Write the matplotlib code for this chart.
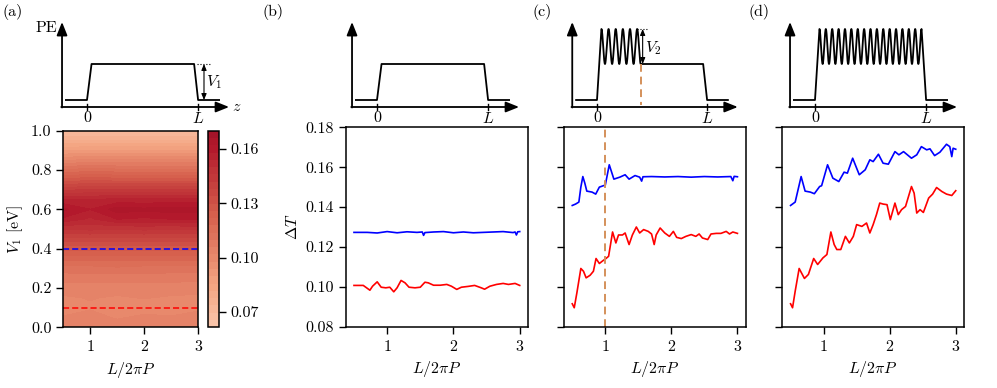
import numpy as np
import matplotlib
matplotlib.use("Agg")
import matplotlib.pyplot as plt
from matplotlib.colors import ListedColormap

plt.rcParams['font.family'] = 'serif'
plt.rcParams['font.serif'] = ['cmr10']
plt.rcParams['mathtext.fontset'] = 'cm'
plt.rcParams['axes.formatter.use_mathtext'] = True
plt.rcParams['font.size'] = 11.5
plt.rcParams['axes.linewidth'] = 1.1
plt.rcParams['xtick.major.size'] = 5
plt.rcParams['ytick.major.size'] = 5
plt.rcParams['xtick.major.width'] = 1.0
plt.rcParams['ytick.major.width'] = 1.0

W, H = 997, 388

# ---- data -------------------------------------------------------------
# (a) map of Delta T over (L/2piP, V1)
map_L = [0.5, 1.0, 1.5, 2.0, 2.5, 3.0]
map_V1 = [0.00, 0.05, 0.10, 0.15, 0.20, 0.25, 0.30, 0.35, 0.40, 0.45, 0.50,
          0.55, 0.60, 0.65, 0.70, 0.75, 0.80, 0.85, 0.90, 0.95, 1.00]
map_dT = [
    [0.106, 0.104, 0.105, 0.103, 0.105, 0.104],
    [0.102, 0.104, 0.101, 0.103, 0.102, 0.103],
    [0.100, 0.101, 0.100, 0.099, 0.100, 0.101],
    [0.101, 0.102, 0.101, 0.102, 0.101, 0.101],
    [0.104, 0.103, 0.104, 0.103, 0.104, 0.103],
    [0.107, 0.108, 0.107, 0.108, 0.107, 0.107],
    [0.112, 0.112, 0.113, 0.112, 0.112, 0.112],
    [0.119, 0.119, 0.119, 0.119, 0.119, 0.119],
    [0.127, 0.127, 0.127, 0.127, 0.127, 0.127],
    [0.136, 0.137, 0.136, 0.137, 0.136, 0.137],
    [0.146, 0.147, 0.146, 0.147, 0.146, 0.147],
    [0.157, 0.153, 0.158, 0.157, 0.158, 0.158],
    [0.163, 0.158, 0.164, 0.163, 0.164, 0.164],
    [0.154, 0.154, 0.155, 0.155, 0.155, 0.155],
    [0.141, 0.142, 0.142, 0.142, 0.142, 0.142],
    [0.127, 0.129, 0.128, 0.128, 0.128, 0.128],
    [0.114, 0.116, 0.115, 0.115, 0.115, 0.115],
    [0.101, 0.103, 0.102, 0.102, 0.102, 0.102],
    [0.089, 0.090, 0.090, 0.090, 0.090, 0.090],
    [0.078, 0.078, 0.078, 0.078, 0.078, 0.078],
    [0.068, 0.068, 0.068, 0.068, 0.068, 0.068],
]
cbar_ticks = [0.07, 0.10, 0.13, 0.16]
V1_blue, V1_red = 0.4, 0.1

# (b) flat barrier
b_blue_x = [0.5, 0.7, 0.85, 1.0, 1.15, 1.3, 1.45, 1.53, 1.55, 1.57, 1.7, 1.85, 2.0,
            2.15, 2.3, 2.45, 2.6, 2.75, 2.9, 2.93, 2.95, 2.97, 3.0]
b_blue_y = [0.1273, 0.1273, 0.1270, 0.1277, 0.1271, 0.1276, 0.1273, 0.1275, 0.1258, 0.1272,
            0.1275, 0.1277, 0.1271, 0.1275, 0.1271, 0.1273, 0.1275, 0.1277, 0.1272, 0.1275,
            0.1260, 0.1276, 0.1277]
b_red_x = [0.5, 0.64, 0.69, 0.74, 0.78, 0.85, 0.91, 0.98, 1.04, 1.1, 1.15, 1.21, 1.27,
           1.33, 1.42, 1.5, 1.57, 1.62, 1.7, 1.8, 1.9, 1.97, 2.05, 2.12, 2.22, 2.32,
           2.42, 2.47, 2.55, 2.65, 2.75, 2.83, 2.93, 3.0]
b_red_y = [0.1007, 0.1007, 0.0995, 0.0983, 0.1003, 0.1025, 0.0998, 0.0995, 0.0998, 0.0975,
           0.0995, 0.1032, 0.1020, 0.0998, 0.0995, 0.0998, 0.1023, 0.1020, 0.1008, 0.1008,
           0.1012, 0.1003, 0.0987, 0.0998, 0.1002, 0.1007, 0.0995, 0.0988, 0.1003, 0.1012,
           0.1017, 0.1012, 0.1017, 0.1007]

# (c) partially modulated barrier
c_blue_x = [0.5, 0.55, 0.6, 0.63, 0.66, 0.69, 0.72, 0.8, 0.855, 0.91, 0.97, 1.0, 1.06,
            1.13, 1.22, 1.3, 1.36, 1.45, 1.52, 1.55, 1.57, 1.7, 1.9, 2.1, 2.3, 2.5,
            2.7, 2.9, 2.93, 2.95, 3.0]
c_blue_y = [0.1408, 0.1415, 0.1425, 0.1500, 0.1553, 0.1520, 0.1480, 0.1475, 0.1465, 0.1500,
            0.1507, 0.1510, 0.1612, 0.1540, 0.1550, 0.1562, 0.1540, 0.1558, 0.1550, 0.1530,
            0.1552, 0.1553, 0.1551, 0.1553, 0.1550, 0.1553, 0.1551, 0.1553, 0.1532, 0.1554,
            0.1552]
c_red_x = [0.5, 0.53, 0.57, 0.63, 0.67, 0.71, 0.77, 0.82, 0.86, 0.91, 0.96, 1.01, 1.05,
           1.11, 1.16, 1.2, 1.26, 1.3, 1.36, 1.41, 1.47, 1.52, 1.58, 1.65, 1.7, 1.74,
           1.77, 1.83, 1.9, 1.97, 2.03, 2.08, 2.15, 2.22, 2.3, 2.37, 2.42, 2.47, 2.55,
           2.6, 2.68, 2.75, 2.83, 2.88, 2.93, 3.0]
c_red_y = [0.0915, 0.0895, 0.0970, 0.1092, 0.1078, 0.1045, 0.1058, 0.1078, 0.1142, 0.1117,
           0.1130, 0.1142, 0.1153, 0.1275, 0.1220, 0.1260, 0.1260, 0.1270, 0.1212, 0.1260,
           0.1300, 0.1270, 0.1287, 0.1278, 0.1265, 0.1212, 0.1260, 0.1295, 0.1270, 0.1253,
           0.1278, 0.1248, 0.1242, 0.1253, 0.1262, 0.1253, 0.1265, 0.1245, 0.1237, 0.1265,
           0.1268, 0.1268, 0.1278, 0.1265, 0.1275, 0.1268]
c_boundary = 1.0

# (d) fully modulated barrier
d_blue_x = [0.5, 0.57, 0.66, 0.72, 0.8, 0.86, 0.94, 0.97, 1.06, 1.14, 1.23, 1.31, 1.36,
            1.44, 1.5, 1.54, 1.63, 1.7, 1.75, 1.83, 1.9, 1.98, 2.08, 2.14, 2.21, 2.33,
            2.41, 2.48, 2.56, 2.61, 2.68, 2.76, 2.86, 2.91, 2.94, 2.96, 3.0]
d_blue_y = [0.1408, 0.1425, 0.1553, 0.1480, 0.1475, 0.1467, 0.1503, 0.1507, 0.1612, 0.1545,
            0.1528, 0.1575, 0.1570, 0.1645, 0.1595, 0.1562, 0.1587, 0.1637, 0.1628, 0.1665,
            0.1620, 0.1615, 0.1678, 0.1662, 0.1678, 0.1645, 0.1662, 0.1703, 0.1687, 0.1692,
            0.1658, 0.1675, 0.1715, 0.1703, 0.1653, 0.1695, 0.1690]
d_red_x = [0.5, 0.53, 0.57, 0.63, 0.71, 0.77, 0.85, 0.91, 0.99, 1.05, 1.11, 1.16, 1.2,
           1.26, 1.33, 1.39, 1.45, 1.5, 1.58, 1.65, 1.7, 1.75, 1.8, 1.85, 1.9, 1.96,
           2.01, 2.08, 2.13, 2.18, 2.24, 2.33, 2.37, 2.41, 2.46, 2.51, 2.59, 2.65, 2.71,
           2.79, 2.86, 2.94, 3.0]
d_red_y = [0.0915, 0.0895, 0.0978, 0.1092, 0.1042, 0.1062, 0.1142, 0.1112, 0.1145, 0.1162,
           0.1275, 0.1212, 0.1187, 0.1187, 0.1253, 0.1220, 0.1253, 0.1312, 0.1303, 0.1320,
           0.1270, 0.1312, 0.1362, 0.1420, 0.1415, 0.1412, 0.1337, 0.1420, 0.1362, 0.1387,
           0.1403, 0.1503, 0.1470, 0.1370, 0.1387, 0.1373, 0.1445, 0.1465, 0.1498, 0.1478,
           0.1465, 0.1458, 0.1482]

# ---- figure -----------------------------------------------------------
fig = plt.figure(figsize=(W / 100, H / 100), dpi=100)


def px_axes(x0, y0, x1, y1):
    # axes from pixel box (top-left origin)
    return fig.add_axes([x0 / W, 1 - y1 / H, (x1 - x0) / W, (y1 - y0) / H])


def schematic(z0px, s, n_peaks=0, period=0.06, partial=False):
    ax = px_axes(z0px - 0.3 * s, 18, z0px + 1.45 * s, 118)
    ax.set_xlim(-0.3, 1.45)
    ax.set_ylim(-11, 89)
    ax.axis('off')
    zz = np.linspace(-0.19, 1.19, 4000)
    pe = np.interp(zz, [-0.19, 0, 0.04, 0.965, 1.0, 1.19], [7, 7, 43, 43, 7, 7])
    z_end = None
    if n_peaks:
        z_end = 0.04 + (n_peaks - 1) * period + (period / 2 if partial else 0)
        m = (zz >= 0.04) & (zz <= z_end)
        pe[m] = 43 + 35 * (1 + np.cos(2 * np.pi * (zz[m] - 0.04) / period)) / 2
        m0 = (zz >= 0) & (zz < 0.04)
        pe[m0] = 7 + 71 * zz[m0] / 0.04
        if not partial:
            m2 = (zz > z_end) & (zz <= 1.0)
            pe[m2] = 78 - 71 * (zz[m2] - z_end) / (1.0 - z_end)
    ax.plot(zz, pe, color='k', lw=1.3)
    arr = dict(arrowstyle='-|>,head_length=0.8,head_width=0.32', color='k', lw=1.3,
               mutation_scale=10, shrinkA=0, shrinkB=0)
    ax.annotate('', xy=(-0.225, 85), xytext=(-0.225, -0.5), arrowprops=arr)
    ax.annotate('', xy=(1.28, 0), xytext=(-0.232, 0), arrowprops=arr)
    for zt, lab in [(0, '0'), (1, '$L$')]:
        ax.plot([zt, zt], [-3, 3], color='k', lw=1.0)
        ax.text(zt, -4, lab, ha='center', va='top', fontsize=11.5)
    return ax, z_end


small = dict(arrowstyle='<|-|>,head_length=0.6,head_width=0.25', color='k', lw=0.8,
             mutation_scale=6, shrinkA=0, shrinkB=0)

# schematic (a)
sa, _ = schematic(87, 111)
sa.annotate('', xy=(1.054, 43), xytext=(1.054, 7), arrowprops=small)
sa.plot([0.99, 1.11], [43, 43], color='k', lw=0.8, ls=':')
sa.text(1.07, 25, '$V_1$', ha='left', va='center', fontsize=11.5)
sa.text(-0.27, 79, 'PE', ha='right', va='center', fontsize=11.5)
sa.text(1.31, 0, '$z$', ha='left', va='center', fontsize=11.5)

# schematic (b)
schematic(377, 111)

# schematic (c)
sc, zc = schematic(597, 110, n_peaks=6, period=0.065, partial=True)
sc.annotate('', xy=(0.415, 43), xytext=(0.415, 78), arrowprops=small)
sc.plot([0.36, 0.455], [78, 78], color='k', lw=0.8, ls=':')
sc.text(0.44, 59, '$V_2$', ha='left', va='center', fontsize=11.5)
sc.plot([zc, zc], [43, 2], color='#d4915a', lw=1.4, ls=(0, (4, 2.5)))

# schematic (d)
schematic(815, 111, n_peaks=17, period=0.0575)

# ---- (a) map ----
axa = px_axes(63.3, 130.7, 198.3, 327.3)
cmap = ListedColormap(plt.cm.RdBu_r(np.linspace(0.64, 0.92, 256)))
levels = np.linspace(0.0615, 0.170, 28)
cf = axa.contourf(map_L, map_V1, np.array(map_dT), levels=levels, cmap=cmap)
axa.axhline(V1_blue, color='b', lw=1.1, ls='--', dashes=(4, 2))
axa.axhline(V1_red, color='r', lw=1.1, ls='--', dashes=(4, 2))
axa.set_xlim(0.5, 3.0)
axa.set_ylim(0, 1.0)
axa.set_xticks([1, 2, 3])
axa.set_yticks([0.0, 0.2, 0.4, 0.6, 0.8, 1.0])
axa.yaxis.set_major_formatter(matplotlib.ticker.FormatStrFormatter('%.1f'))
axa.set_xlabel(r'$L/2\pi P$')
axa.set_ylabel(r'$V_1$ [eV]')
cax = px_axes(208.3, 130.7, 219, 327.3)
cb = fig.colorbar(cf, cax=cax, ticks=cbar_ticks, format='%.2f')
cb.outline.set_linewidth(1.1)

# ---- (b), (c), (d) ----
boxes = [(345.7, 528), (564, 745.7), (782.3, 964)]
series = [(b_blue_x, b_blue_y, b_red_x, b_red_y),
          (c_blue_x, c_blue_y, c_red_x, c_red_y),
          (d_blue_x, d_blue_y, d_red_x, d_red_y)]
for i, ((x0, x1), (bx, by, rx, ry)) in enumerate(zip(boxes, series)):
    ax = px_axes(x0, 127.3, x1, 326.7)
    ax.plot(bx, by, color='b', lw=1.2)
    ax.plot(rx, ry, color='r', lw=1.2)
    ax.set_xlim(0.375, 3.125)
    ax.set_ylim(0.08, 0.18)
    ax.set_xticks([1, 2, 3])
    ax.set_yticks([0.08, 0.10, 0.12, 0.14, 0.16, 0.18])
    ax.set_xlabel(r'$L/2\pi P$')
    if i == 0:
        ax.yaxis.set_major_formatter(matplotlib.ticker.FormatStrFormatter('%.2f'))
        ax.set_ylabel(r'$\Delta T$')
    else:
        ax.set_yticklabels([])
    if i == 1:
        ax.axvline(c_boundary, color='#d4915a', lw=1.4, ls=(0, (4, 2.5)))

for lab, xp in [('(a)', 2), ('(b)', 262), ('(c)', 532), ('(d)', 748)]:
    fig.text(xp / W, 1 - 12 / H, lab, ha='left', va='center', fontsize=11.5)

fig.savefig('out.png', dpi=100)
